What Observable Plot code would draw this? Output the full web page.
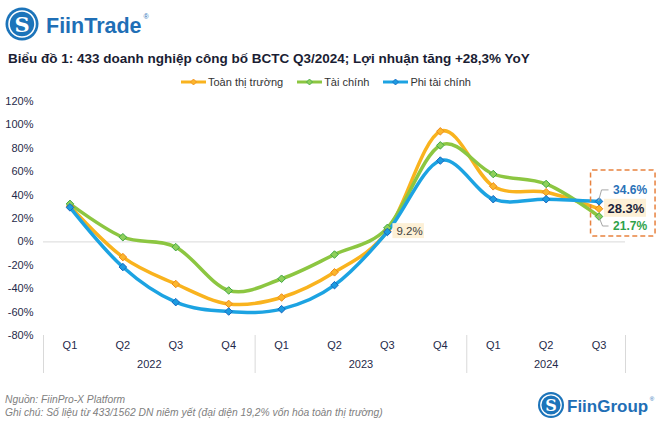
<!DOCTYPE html>
<html>
<head>
<meta charset="utf-8">
<script src="https://cdn.jsdelivr.net/npm/d3@7"></script>
<script src="https://cdn.jsdelivr.net/npm/@observablehq/plot@0.6"></script>
<style>
  html, body { margin: 0; padding: 0; background: #fff; }
  body { width: 669px; height: 427px; position: relative; overflow: hidden; font-family: "Liberation Sans", Arial, sans-serif; }
  .abs { position: absolute; }
  #title { left: 8px; top: 51px; font-size: 13.5px; font-weight: bold; color: #1a1d33; white-space: nowrap; }
  #legend { left: 181px; top: 76px; display: flex; align-items: center; font-size: 11px; color: #333; white-space: nowrap; }
  #legend .item { display: flex; align-items: center; margin-right: 14px; }
  #legend svg { margin-right: 2px; }
  #chart { left: 0; top: 91px; }
  #foot { left: 5px; top: 393px; font-size: 10.3px; font-style: italic; color: #808080; line-height: 13px; white-space: nowrap; }
</style>
</head>
<body>
<div class="abs" style="left:0;top:0;">
  <svg width="160" height="48">
    <circle cx="22" cy="24" r="16.5" fill="#1c74ba"/>
    <circle cx="22" cy="24" r="13" fill="none" stroke="#fff" stroke-width="1.6"/>
    <text x="22" y="31.5" text-anchor="middle" fill="#fff" font-family="DejaVu Serif, serif" font-weight="bold" font-size="21">S</text>
    <text x="46" y="32.5" fill="#1f6fb6" font-family="Liberation Sans, Arial, sans-serif" font-weight="bold" font-size="21.5">FiinTrade<tspan font-size="7" font-weight="normal" dx="2" dy="-14">®</tspan></text>
  </svg>
</div>
<div id="title" class="abs">Biểu đồ 1: 433 doanh nghiệp công bố BCTC Q3/2024; Lợi nhuận tăng +28,3% YoY</div>
<div id="legend" class="abs"></div>
<div id="chart" class="abs"></div>
<div id="foot" class="abs">Nguồn: FiinPro-X Platform<br>Ghi chú: Số liệu từ 433/1562 DN niêm yết (đại diện 19,2% vốn hóa toàn thị trường)</div>
<div class="abs" style="left:530px;top:390px;">
  <svg width="135" height="32">
    <circle cx="21" cy="15" r="13" fill="#1c74ba"/>
    <circle cx="21" cy="15" r="10.2" fill="none" stroke="#fff" stroke-width="1.3"/>
    <text x="21" y="21" text-anchor="middle" fill="#fff" font-family="DejaVu Serif, serif" font-weight="bold" font-size="16">S</text>
    <text x="37" y="22" fill="#1f6fb6" font-family="Liberation Sans, Arial, sans-serif" font-weight="bold" font-size="17">FiinGroup<tspan font-size="6" font-weight="normal" dx="1.5" dy="-11">®</tspan></text>
  </svg>
</div>
<script>
// ---- data ----
const quarters = ["Q1","Q2","Q3","Q4","Q1","Q2","Q3","Q4","Q1","Q2","Q3"];
const yearOf   = [2022,2022,2022,2022,2023,2023,2023,2023,2024,2024,2024];
const seriesNames = ["Toàn thị trường","Tài chính","Phi tài chính"];
const toanThiTruong = [30.5, -13, -36, -53, -47.5, -26, 9.2, 94.5, 47.5, 42.5, 28.3];
const taiChinh      = [32.5, 4, -4.5, -41.5, -31.5, -10.8, 12, 82.5, 58, 49.5, 21.7];
const phiTaiChinh   = [29.5, -21.5, -51.5, -59.5, -57.5, -37, 8.5, 69.5, 36.5, 36.5, 34.6];
const yTicks = [-80, -60, -40, -20, 0, 20, 40, 60, 80, 100, 120];
const lineColors   = ["#f9b31e", "#8cc641", "#1ca3e2"];
const markerFill   = ["#fbb62c", "#8fd05a", "#1d9be0"];
const markerStroke = ["#ee8a1c", "#3fa744", "#1767bf"];
const labelColors  = ["#1b1f3b", "#2fa24a", "#2a72b8"];

// ---- build tables ----
const valuesBySeries = [toanThiTruong, taiChinh, phiTaiChinh];
const long = [];
seriesNames.forEach((s, k) => valuesBySeries[k].forEach((v, i) => long.push({s, k, i, v})));
const rows = quarters.map((q, i) => ({i, q, y: yearOf[i]}));
const years = Array.from(d3.group(rows, d => d.y), ([y, g]) => ({y, c: d3.mean(g, d => d.i)}));
const boundaries = [];
rows.forEach((r, i) => { if (i === 0 || yearOf[i - 1] !== r.y) boundaries.push(i - 0.5); });
boundaries.push(rows.length - 0.5);
const last = rows.length - 1;
const q3_2023 = rows.findIndex(r => r.y === 2023 && r.q === "Q3");
const yMin = d3.min(yTicks), yMax = d3.max(yTicks);

// ---- legend ----
const legend = document.getElementById("legend");
seriesNames.forEach((s, k) => {
  const it = document.createElement("div");
  it.className = "item";
  it.innerHTML = `<svg width="25" height="8"><line x1="0" x2="25" y1="4" y2="4" stroke="${lineColors[k]}" stroke-width="3"/>
    <path d="M12.5,1 L15.5,4 L12.5,7 L9.5,4Z" fill="${markerFill[k]}" stroke="${markerStroke[k]}" stroke-width="0.8"/></svg><span>${s}</span>`;
  legend.appendChild(it);
});

const font = "Liberation Sans, Arial, sans-serif";
const axisColor = "#1f2a4a";

// annotation mark (box, leaders, label backgrounds), positioned via scales
function annotations(index, scales) {
  const g = d3.create("svg:g");
  const px = scales.x(last);
  const yO = scales.y(toanThiTruong[last]);
  const yG = scales.y(taiChinh[last]);
  const yB = scales.y(phiTaiChinh[last]);
  g.append("rect").attr("x", px - 8).attr("y", yB - 31).attr("width", 64.5).attr("height", (yG + 20) - (yB - 31))
    .attr("fill", "none").attr("stroke", "#e8823f").attr("stroke-width", 1.5).attr("stroke-dasharray", "5,3").attr("rx", 2);
  g.append("path").attr("d", `M${px},${yB} L${px + 3},${yB - 11} L${px + 10},${yB - 11}`)
    .attr("fill", "none").attr("stroke", "#a6a6a6").attr("stroke-width", 1);
  g.append("path").attr("d", `M${px},${yG} L${px + 4},${yG + 10} L${px + 10},${yG + 10}`)
    .attr("fill", "none").attr("stroke", "#a6a6a6").attr("stroke-width", 1);
  g.append("rect").attr("x", px + 5.5).attr("y", yO - 9.5).attr("width", 42).attr("height", 18).attr("fill", "#fdf0d6");
  const qx = scales.x(q3_2023), qy = scales.y(toanThiTruong[q3_2023]);
  g.append("rect").attr("x", qx + 5.5).attr("y", qy - 7.5).attr("width", 31.5).attr("height", 15).attr("fill", "#fdf0d6");
  return g.node();
}

const chart = Plot.plot({
  width: 669,
  height: 290,
  marginLeft: 43,
  marginRight: 44,
  marginTop: 10,
  marginBottom: 46,
  x: {domain: [-0.5, rows.length - 0.5], axis: null},
  y: {domain: [yMin, yMax], axis: null},
  style: {fontFamily: font, background: "transparent", overflow: "visible"},
  marks: [
    Plot.ruleY([0], {stroke: "#d9d9d9", strokeWidth: 1}),
    Plot.text(yTicks, {y: d => d, text: d => d + "%", frameAnchor: "left", dx: -10, textAnchor: "end", fill: axisColor, fontSize: 11}),
    Plot.ruleX(boundaries, {x: d => d, y1: yMin, y2: yMin, insetBottom: -38, stroke: "#d9d9d9", strokeWidth: 1}),
    Plot.text(rows, {x: "i", text: "q", frameAnchor: "bottom", dy: 13, fill: axisColor, fontSize: 11}),
    Plot.text(years, {x: "c", text: d => String(d.y), frameAnchor: "bottom", dy: 32, fill: axisColor, fontSize: 11}),
    Plot.line(long, {x: "i", y: "v", z: "s", stroke: d => lineColors[d.k], curve: "cardinal", tension: 0, strokeWidth: 3.5, strokeLinejoin: "round"}),
    Plot.dot(long, {x: "i", y: "v", symbol: "diamond2", r: 3.4, fill: d => markerFill[d.k], stroke: d => markerStroke[d.k], strokeWidth: 1}),
    annotations,
    Plot.text([{i: q3_2023, v: toanThiTruong[q3_2023]}], {x: "i", y: "v", text: d => d.v.toFixed(1) + "%", dx: 9, textAnchor: "start", fill: "#404040", fontSize: 11.5}),
    Plot.text([{i: last, v: phiTaiChinh[last]}], {x: "i", y: "v", text: d => d.v.toFixed(1) + "%", dx: 14, dy: -11, textAnchor: "start", fill: labelColors[2], fontSize: 12, fontWeight: "bold"}),
    Plot.text([{i: last, v: toanThiTruong[last]}], {x: "i", y: "v", text: d => d.v.toFixed(1) + "%", dx: 8.5, textAnchor: "start", fill: labelColors[0], fontSize: 13, fontWeight: "bold"}),
    Plot.text([{i: last, v: taiChinh[last]}], {x: "i", y: "v", text: d => d.v.toFixed(1) + "%", dx: 14, dy: 10, textAnchor: "start", fill: labelColors[1], fontSize: 12, fontWeight: "bold"})
  ]
});
document.getElementById("chart").appendChild(chart);
</script>
</body>
</html>
